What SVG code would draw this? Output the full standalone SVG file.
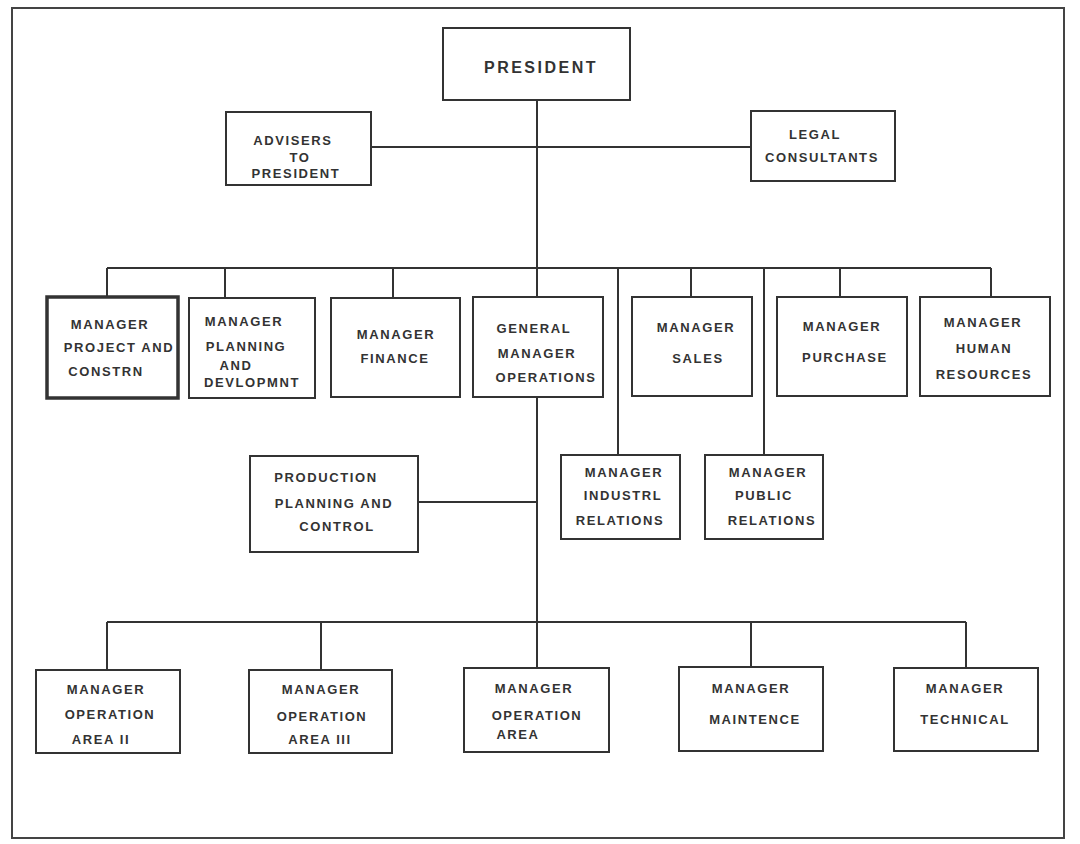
<svg xmlns="http://www.w3.org/2000/svg" width="1080" height="844" viewBox="0 0 1080 844">
<style>
.b{fill:#fff;stroke:#333;stroke-width:2}
.t{font-family:"Liberation Sans",Arial,sans-serif;font-weight:bold;font-size:13px;letter-spacing:1.6px;fill:#333;text-anchor:middle}
.c{fill:none;stroke:#333;stroke-width:2}
</style>
<rect width="1080" height="844" fill="#fff"/>
<rect x="12" y="8" width="1052" height="830" fill="none" stroke="#444" stroke-width="2"/>
<g id="connectors" class="c">
<path d="M537 100V668M371 147H751M107 268H991M107 268V297M225 268V298M393 268V298M691 268V297M840 268V297M991 268V297M618 268V455M764 268V455M418 502H537M107 622H966M107 622V670M321 622V670M751 622V667M966 622V668"/>
</g>
<g id="president"><rect class="b" x="443" y="28" width="187" height="72"/><text class="t" x="541" y="73" style="font-size:16px;letter-spacing:2.5px">PRESIDENT</text></g>
<g id="advisers"><rect class="b" x="226" y="112" width="145" height="73"/><text class="t" x="293" y="145">ADVISERS</text><text class="t" x="300" y="162">TO</text><text class="t" x="296" y="178">PRESIDENT</text></g>
<g id="legal"><rect class="b" x="751" y="111" width="144" height="70"/><text class="t" x="815" y="139">LEGAL</text><text class="t" x="822" y="162">CONSULTANTS</text></g>
<g id="project"><rect class="b" x="47" y="297" width="131" height="101" style="stroke-width:3.5"/><text class="t" x="110" y="329">MANAGER</text><text class="t" x="119" y="352">PROJECT AND</text><text class="t" x="106" y="376">CONSTRN</text></g>
<g id="planning"><rect class="b" x="189" y="298" width="126" height="100"/><text class="t" x="244" y="326">MANAGER</text><text class="t" x="246" y="351">PLANNING</text><text class="t" x="236" y="370">AND</text><text class="t" x="252" y="387">DEVLOPMNT</text></g>
<g id="finance"><rect class="b" x="331" y="298" width="129" height="99"/><text class="t" x="396" y="339">MANAGER</text><text class="t" x="395" y="363">FINANCE</text></g>
<g id="gmops"><rect class="b" x="473" y="297" width="130" height="100"/><text class="t" x="534" y="333">GENERAL</text><text class="t" x="537" y="358">MANAGER</text><text class="t" x="546" y="382">OPERATIONS</text></g>
<g id="sales"><rect class="b" x="632" y="297" width="120" height="99"/><text class="t" x="696" y="332">MANAGER</text><text class="t" x="698" y="363">SALES</text></g>
<g id="purchase"><rect class="b" x="777" y="297" width="130" height="99"/><text class="t" x="842" y="331">MANAGER</text><text class="t" x="845" y="362">PURCHASE</text></g>
<g id="human"><rect class="b" x="920" y="297" width="130" height="99"/><text class="t" x="983" y="327">MANAGER</text><text class="t" x="984" y="353">HUMAN</text><text class="t" x="984" y="379">RESOURCES</text></g>
<g id="industrl"><rect class="b" x="561" y="455" width="119" height="84"/><text class="t" x="624" y="477">MANAGER</text><text class="t" x="623" y="500">INDUSTRL</text><text class="t" x="620" y="525">RELATIONS</text></g>
<g id="public"><rect class="b" x="705" y="455" width="118" height="84"/><text class="t" x="768" y="477">MANAGER</text><text class="t" x="764" y="500">PUBLIC</text><text class="t" x="772" y="525">RELATIONS</text></g>
<g id="production"><rect class="b" x="250" y="456" width="168" height="96"/><text class="t" x="326" y="482">PRODUCTION</text><text class="t" x="334" y="508">PLANNING AND</text><text class="t" x="337" y="531">CONTROL</text></g>
<g id="area2"><rect class="b" x="36" y="670" width="144" height="83"/><text class="t" x="106" y="694">MANAGER</text><text class="t" x="110" y="719">OPERATION</text><text class="t" x="101" y="744">AREA II</text></g>
<g id="area3"><rect class="b" x="249" y="670" width="143" height="83"/><text class="t" x="321" y="694">MANAGER</text><text class="t" x="322" y="721">OPERATION</text><text class="t" x="320" y="744">AREA III</text></g>
<g id="area"><rect class="b" x="464" y="668" width="145" height="84"/><text class="t" x="534" y="693">MANAGER</text><text class="t" x="537" y="720">OPERATION</text><text class="t" x="518" y="739">AREA</text></g>
<g id="maint"><rect class="b" x="679" y="667" width="144" height="84"/><text class="t" x="751" y="693">MANAGER</text><text class="t" x="755" y="724">MAINTENCE</text></g>
<g id="tech"><rect class="b" x="894" y="668" width="144" height="83"/><text class="t" x="965" y="693">MANAGER</text><text class="t" x="965" y="724">TECHNICAL</text></g>
</svg>
